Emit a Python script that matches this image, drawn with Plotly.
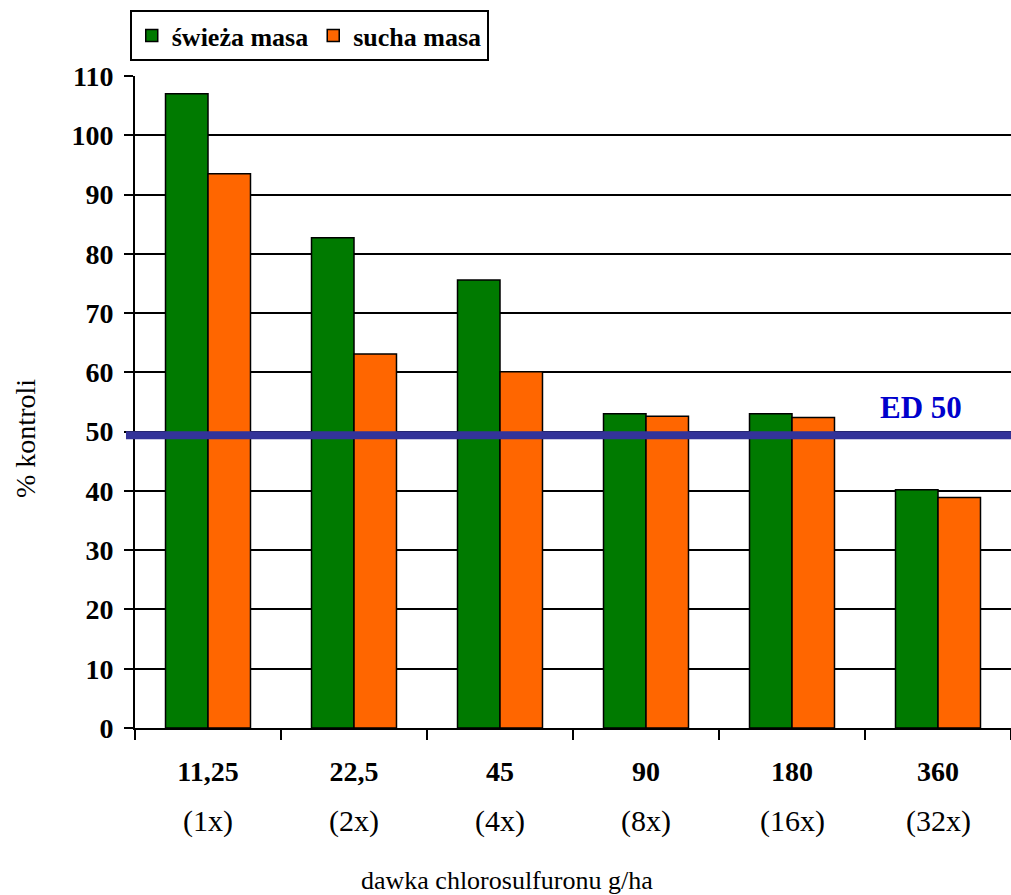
import plotly.graph_objects as go

# Doses of chlorosulfuron (g/ha) and their multiples of the base dose
doses = ["11,25", "22,5", "45", "90", "180", "360"]
multiples = ["(1x)", "(2x)", "(4x)", "(8x)", "(16x)", "(32x)"]

# Percent of control
fresh_mass = [107.0, 82.7, 75.6, 53.0, 53.0, 40.2]
dry_mass = [93.5, 63.1, 60.1, 52.6, 52.4, 38.9]

series_names = ["świeża masa", "sucha masa"]
ed50_level = 49.4
y_ticks = list(range(0, 111, 10))

FONT = "Liberation Serif"
GREEN = "#007A00"
ORANGE = "#FF6600"

fig = go.Figure()
for name, vals, col in zip(series_names, [fresh_mass, dry_mass], [GREEN, ORANGE]):
    fig.add_trace(go.Bar(
        x=doses, y=vals, name=name,
        marker=dict(color=col, line=dict(color="black", width=1.5)),
    ))

fig.update_layout(
    width=1011, height=895,
    margin=dict(l=135, r=0, t=76, b=167),
    paper_bgcolor="white", plot_bgcolor="white",
    barmode="group", bargap=0.418, bargroupgap=0,
    font=dict(family=FONT, color="black"),
    showlegend=True,
    legend=dict(
        orientation="h", x=-0.006, y=1.101, xanchor="left", yanchor="top",
        bordercolor="black", borderwidth=2, bgcolor="white",
        font=dict(family=FONT, size=26, weight="bold"),
        itemwidth=30, tracegroupgap=0,
    ),
    xaxis=dict(
        type="category", categoryorder="array", categoryarray=doses,
        tickson="boundaries",
        ticks="outside", ticklen=10, tickwidth=2, tickcolor="black",
        showline=True, linecolor="black", linewidth=2,
        showgrid=False,
        tickfont=dict(family=FONT, size=28, weight="bold"),
        ticklabelstandoff=17,
    ),
    yaxis=dict(
        range=[0, 110], tickvals=y_ticks,
        ticks="outside", ticklen=9, tickwidth=2, tickcolor="black",
        showline=True, linecolor="black", linewidth=2,
        showgrid=True, gridcolor="black", gridwidth=1.5,
        zeroline=False,
        tickfont=dict(family=FONT, size=28, weight="bold"),
        ticklabelstandoff=5,
    ),
)

# Second line of category labels: dose multiples
for i, m in enumerate(multiples):
    fig.add_annotation(
        x=i, xref="x", y=-0.143, yref="paper",
        text=m, showarrow=False, yanchor="middle",
        font=dict(family=FONT, size=30, color="black"),
    )

# Axis titles
fig.add_annotation(
    x=0.4247, xref="paper", y=-0.234, yref="paper",
    text="dawka chlorosulfuronu g/ha", showarrow=False, yanchor="middle",
    font=dict(family=FONT, size=26, color="black"),
)
fig.add_annotation(
    x=-0.1256, xref="paper", y=(728 - 438) / 652, yref="paper",
    text="% kontroli", textangle=-90, showarrow=False,
    xanchor="center", yanchor="middle",
    font=dict(family=FONT, size=28, color="black"),
)

# ED 50 reference line
fig.add_shape(
    type="line", xref="paper", yref="y",
    x0=-0.0103, x1=1, y0=ed50_level, y1=ed50_level,
    line=dict(color="#333399", width=8), layer="above",
)
fig.add_annotation(
    x=0.897, xref="paper", y=54, yref="y",
    text="ED 50", showarrow=False, xanchor="center", yanchor="middle",
    font=dict(family=FONT, size=31, color="#0000CC", weight="bold"),
)

fig.write_html("out.html")
